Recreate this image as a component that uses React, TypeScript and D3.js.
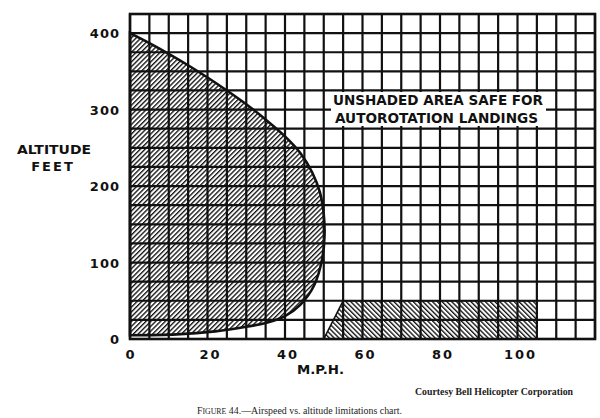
import { useEffect, useRef } from 'react';
import * as d3 from 'd3';

// Airspeed (mph) vs altitude (ft) limitations chart
const xTicks = [0, 20, 40, 60, 80, 100];
const yTicks = [0, 100, 200, 300, 400];
const xGrid = [0, 5, 10, 15, 20, 25, 30, 35, 40, 45, 50, 55, 60, 65, 70, 75, 80, 85, 90, 95, 100, 105, 110, 115, 120];
const yGrid = [0, 25, 50, 75, 100, 125, 150, 175, 200, 225, 250, 275, 300, 325, 350, 375, 400, 425];

// boundary of the low-speed shaded region, [mph, ft]
const curveMph = [0, 5, 10, 15, 20, 25, 30, 35, 40, 44, 47, 49, 50, 50.2, 49.6, 47.5, 44, 40, 35, 30, 22, 12, 0];
const curveFt = [400, 387, 373, 358, 342, 325, 307, 287, 265, 243, 218, 192, 163, 135, 105, 70, 45, 30, 21, 16, 10, 6, 5];

// high-speed, low-altitude shaded region, [mph, ft]
const lowMph = [50, 55, 105, 105];
const lowFt = [0, 50, 50, 0];

const noteLines = ['UNSHADED AREA SAFE FOR', 'AUTOROTATION LANDINGS'];

export default function App() {
  const svgRef = useRef<SVGSVGElement>(null);

  useEffect(() => {
    if (!svgRef.current) return;
    const svg = d3.select(svgRef.current);
    svg.selectAll('*').remove();

    const x = d3.scaleLinear().domain([0, 120]).range([130, 595]);
    const y = d3.scaleLinear().domain([0, 425]).range([339, 14]);
    const font = '"DejaVu Sans", sans-serif';

    svg.append('rect').attr('width', 600).attr('height', 418).attr('fill', '#fff');

    // hatch patterns
    const defs = svg.append('defs');
    const hatch = (id: string, angle: number) => {
      const p = defs.append('pattern')
        .attr('id', id)
        .attr('patternUnits', 'userSpaceOnUse')
        .attr('width', 3.4)
        .attr('height', 3.4)
        .attr('patternTransform', `rotate(${angle})`);
      p.append('rect').attr('width', 3.4).attr('height', 3.4).attr('fill', '#fff');
      p.append('line')
        .attr('x1', 0).attr('y1', 0).attr('x2', 0).attr('y2', 3.4)
        .attr('stroke', '#111')
        .attr('stroke-width', 2.7);
    };
    hatch('hatchA', 45);
    hatch('hatchB', -45);

    // shaded regions
    const pts = curveMph.map((m, i) => [m, curveFt[i]] as [number, number]);
    const curveLine = d3.line<[number, number]>()
      .x(d => x(d[0]))
      .y(d => y(d[1]))
      .curve(d3.curveCatmullRom.alpha(0.5));
    const curvePath = curveLine(pts) + 'Z';

    const lowPts = lowMph.map((m, i) => [m, lowFt[i]] as [number, number]);
    const lowPath = d3.line<[number, number]>().x(d => x(d[0])).y(d => y(d[1]))(lowPts) + 'Z';

    svg.append('path').attr('d', curvePath).attr('fill', 'url(#hatchA)');
    svg.append('path').attr('d', lowPath).attr('fill', 'url(#hatchB)');

    // grid
    const grid = svg.append('g').attr('stroke', '#111').attr('stroke-width', 2.2);
    xGrid.forEach(v => {
      grid.append('line')
        .attr('x1', x(v)).attr('x2', x(v))
        .attr('y1', y(0)).attr('y2', y(425));
    });
    yGrid.forEach(v => {
      grid.append('line')
        .attr('x1', x(0)).attr('x2', x(120))
        .attr('y1', y(v)).attr('y2', y(v));
    });

    // outlines
    svg.append('path').attr('d', curvePath)
      .attr('fill', 'none').attr('stroke', '#111').attr('stroke-width', 2.6);
    svg.append('path').attr('d', lowPath)
      .attr('fill', 'none').attr('stroke', '#111').attr('stroke-width', 1.6);

    // frame
    svg.append('rect')
      .attr('x', x(0)).attr('y', y(425))
      .attr('width', x(120) - x(0)).attr('height', y(0) - y(425))
      .attr('fill', 'none').attr('stroke', '#111').attr('stroke-width', 2.6);

    // note box
    svg.append('rect')
      .attr('x', 331).attr('y', 92).attr('width', 215).attr('height', 34)
      .attr('fill', '#fff');
    noteLines.forEach((t, i) => {
      svg.append('text')
        .attr('x', i === 0 ? 333 : 335)
        .attr('y', 105 + i * 18)
        .attr('textLength', i === 0 ? 210 : 203)
        .attr('lengthAdjust', 'spacingAndGlyphs')
        .attr('font-family', font)
        .attr('font-weight', 'bold')
        .attr('font-size', 13.5)
        .attr('fill', '#111')
        .text(t);
    });

    // axis tick labels
    yTicks.forEach(v => {
      svg.append('text')
        .attr('x', 120)
        .attr('y', y(v) + 5)
        .attr('text-anchor', 'end')
        .attr('font-family', font)
        .attr('font-weight', 'bold')
        .attr('font-size', 13)
        .attr('letter-spacing', 1)
        .attr('fill', '#111')
        .text(v);
    });
    xTicks.forEach(v => {
      svg.append('text')
        .attr('x', x(v) + (v === 0 ? 0 : 3))
        .attr('y', 359)
        .attr('text-anchor', 'middle')
        .attr('font-family', font)
        .attr('font-weight', 'bold')
        .attr('font-size', 13)
        .attr('letter-spacing', v === 0 ? 0 : 2)
        .attr('fill', '#111')
        .text(v);
    });

    // axis titles
    svg.append('text')
      .attr('x', 17).attr('y', 154)
      .attr('textLength', 74).attr('lengthAdjust', 'spacingAndGlyphs')
      .attr('font-family', font).attr('font-weight', 'bold').attr('font-size', 13)
      .attr('fill', '#111').text('ALTITUDE');
    svg.append('text')
      .attr('x', 53).attr('y', 171)
      .attr('text-anchor', 'middle')
      .attr('letter-spacing', 2)
      .attr('font-family', font).attr('font-weight', 'bold').attr('font-size', 13)
      .attr('fill', '#111').text('FEET');
    svg.append('text')
      .attr('x', 297).attr('y', 374)
      .attr('textLength', 47).attr('lengthAdjust', 'spacingAndGlyphs')
      .attr('font-family', font).attr('font-weight', 'bold').attr('font-size', 13)
      .attr('fill', '#111').text('M.P.H.');

    // credits
    svg.append('text')
      .attr('x', 415).attr('y', 395)
      .attr('textLength', 158).attr('lengthAdjust', 'spacingAndGlyphs')
      .attr('font-family', '"Liberation Serif", serif').attr('font-weight', 'bold').attr('font-size', 10)
      .attr('fill', '#222').text('Courtesy Bell Helicopter Corporation');
    const cap = svg.append('text')
      .attr('x', 197).attr('y', 414)
      .attr('textLength', 205).attr('lengthAdjust', 'spacingAndGlyphs')
      .attr('font-family', '"Liberation Serif", serif').attr('font-size', 9.5)
      .attr('fill', '#222');
    cap.append('tspan').text('F');
    cap.append('tspan').attr('font-size', 7.5).text('IGURE');
    cap.append('tspan').text(' 44.\u2014Airspeed vs. altitude limitations chart.');
  }, []);

  return (
    <svg
      ref={svgRef}
      width={600}
      height={418}
      style={{ position: 'absolute', left: 0, top: 0, display: 'block' }}
    />
  );
}
